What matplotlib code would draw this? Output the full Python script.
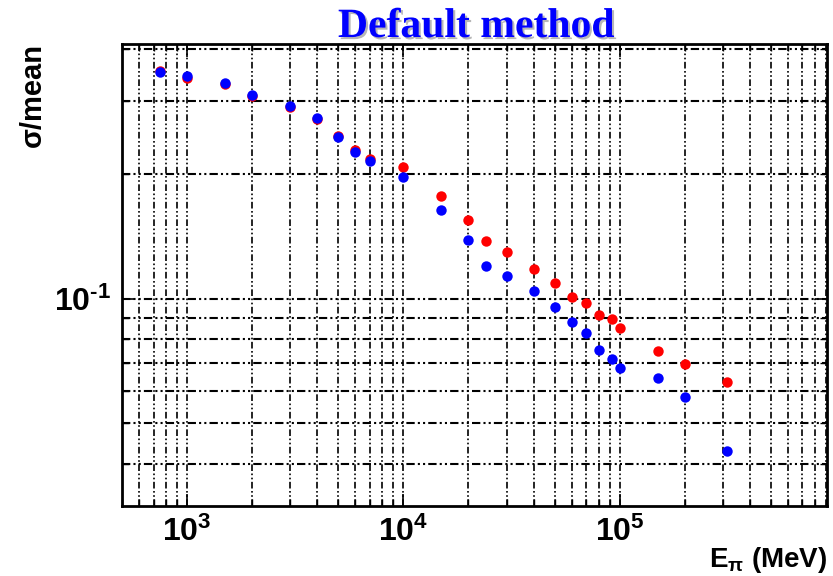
"""
Energy resolution (sigma/mean) versus pion beam energy, default method
"""
import matplotlib
matplotlib.use("Agg")
from matplotlib import pyplot as plt
from matplotlib import ticker
import matplotlib.patheffects as pe
import numpy as np

#Beam energies in MeV
energy = [750, 1000, 1500, 2000, 3000, 4000, 5000, 6000, 7000, 10000,
          15000, 20000, 24000, 30000, 40000, 50000, 60000, 70000, 80000,
          92000, 100000, 150000, 200000, 315000]

#sigma/mean, red points (drawn underneath)
res_red = [0.354, 0.341, 0.330, 0.309, 0.290, 0.271, 0.247, 0.229, 0.218,
           0.208, 0.177, 0.155, 0.138, 0.130, 0.118, 0.109, 0.101, 0.0974,
           0.0915, 0.0893, 0.0851, 0.0747, 0.0695, 0.0631]

#sigma/mean, blue points (drawn on top)
res_blue = [0.352, 0.344, 0.331, 0.311, 0.292, 0.273, 0.2455, 0.2266, 0.2145,
            0.1966, 0.1634, 0.1389, 0.1202, 0.1137, 0.1044, 0.0955, 0.0879,
            0.0826, 0.0751, 0.0714, 0.0679, 0.0643, 0.0580, 0.0428]

plt.rcParams["font.family"] = ["Liberation Sans", "DejaVu Sans"]
plt.rcParams["font.weight"] = "bold"
plt.rcParams["mathtext.fontset"] = "custom"
plt.rcParams["mathtext.rm"] = "Liberation Sans:bold"
plt.rcParams["mathtext.it"] = "Liberation Sans:bold"
plt.rcParams["mathtext.bf"] = "Liberation Sans:bold"
plt.rcParams["axes.unicode_minus"] = False


def power_label(val, pos):
    """10^n label with a short hyphen instead of the math minus"""
    e = int(round(np.log10(val)))
    e_txt = str(e).replace("-", "\u2010")
    return r"$\mathdefault{10^{%s}}$" % e_txt


fig = plt.figure(figsize=(8.33, 5.76), dpi=100)
ax = fig.add_axes([0.1465, 0.1215, 0.9928 - 0.1465, 0.9236 - 0.1215])

ax.plot(energy, res_red, "o", color="#ff0000", markersize=7.5,
        markeredgewidth=0, zorder=3)
ax.plot(energy, res_blue, "o", color="#0000ff", markersize=7.5,
        markeredgewidth=0, zorder=4)

ax.set_xscale("log")
ax.set_yscale("log")
ax.set_xlim(500, 9.1e5)
ax.set_ylim(0.0316, 0.412)

#Grid lines on every major and minor tick, dash-dot-dot like ROOT
grid_style = (0, (4, 1.5, 1, 1.5, 1, 1.5))
ax.grid(True, which="both", axis="x", color="black", linewidth=1.2,
        linestyle=grid_style)
ax.grid(True, which="both", axis="y", color="black", linewidth=1.5,
        linestyle=grid_style)
ax.set_axisbelow(True)

ax.xaxis.set_major_formatter(ticker.FuncFormatter(power_label))
ax.yaxis.set_major_formatter(ticker.FuncFormatter(power_label))
ax.yaxis.set_minor_formatter(ticker.NullFormatter())
ax.xaxis.set_minor_formatter(ticker.NullFormatter())

ax.tick_params(which="both", direction="in", top=True, right=True,
               color="black")
ax.tick_params(which="major", length=9, width=1.2)
ax.tick_params(which="minor", length=5, width=1.0)
ax.tick_params(axis="x", labelsize=23, pad=8)
ax.tick_params(axis="y", labelsize=23, pad=8)

for spine in ax.spines.values():
    spine.set_linewidth(2.0)
    spine.set_color("black")

#Axis titles, ROOT style: placed at the far ends of the axes
fig.text(0.9928, 1 - 567 / 576, r"E$_{π}$ (MeV)", ha="right", va="baseline",
         fontsize=20, fontweight="bold")
fig.text(33 / 833, 1 - 43 / 576, "σ/mean", ha="center", va="top",
         rotation=90, fontsize=21, fontweight="bold")

#Title with a grey drop shadow
fig.text(476 / 833, 1 - 37 / 576, "Default method", ha="center",
         va="baseline", fontsize=30, fontweight="bold", color="#0000ff",
         family="Liberation Serif",
         path_effects=[pe.SimplePatchShadow(offset=(1.5, -1.5),
                                            shadow_rgbFace="#888888",
                                            alpha=0.6),
                       pe.Normal()])

fig.savefig("out.png", dpi=100)
